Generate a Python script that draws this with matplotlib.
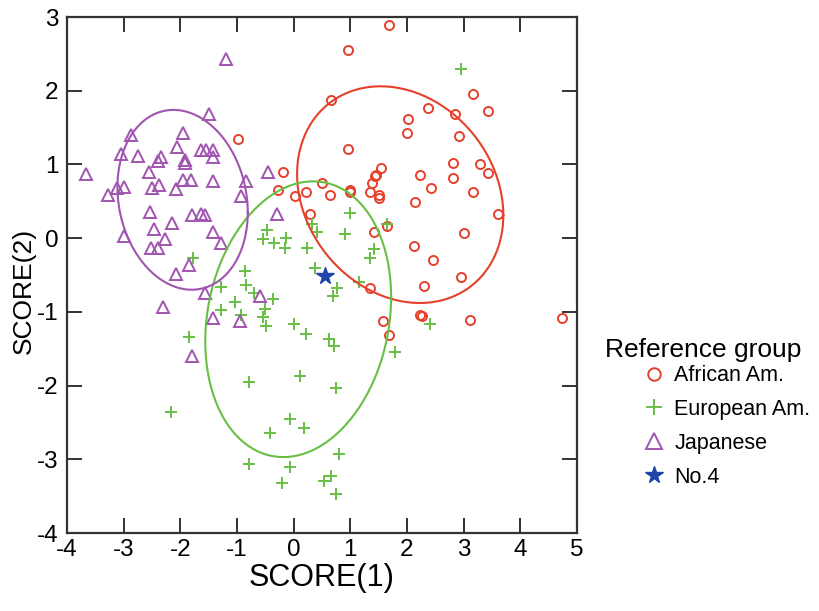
import numpy as np
import matplotlib
matplotlib.use("Agg")
import matplotlib.pyplot as plt
from matplotlib.lines import Line2D

plt.rcParams['font.family'] = ['Liberation Sans', 'DejaVu Sans']
plt.rcParams['axes.unicode_minus'] = False

# data ---------------------------------------------------------------------
african_x = [1.69, 0.96, 0.66, 2.37, 2.02, 2.00, 2.84, 3.16, 2.91, 0.96, -0.18, 1.55, 1.46,
             2.23, 2.81, 2.81, 3.43, 3.29, 3.43, -0.98, -0.28, 0.03, 0.21, 0.50, 0.64, 0.99,
             1.34, 1.38, 1.43, 0.28, 1.41, 1.34, 2.42, 3.17, 1.50, 1.51, 2.14, 3.61, 1.65,
             3.00, 2.13, 2.46, 2.95, 2.30, 1.57, 2.23, 2.26, 3.11, 4.74, 1.69, 1.00]
african_y = [2.89, 2.55, 1.88, 1.77, 1.61, 1.43, 1.69, 1.96, 1.38, 1.21, 0.90, 0.95, 0.86,
             0.86, 1.02, 0.82, 1.73, 1.01, 0.89, 1.35, 0.65, 0.57, 0.63, 0.75, 0.59, 0.65,
             0.63, 0.75, 0.84, 0.33, 0.08, -0.68, 0.68, 0.63, 0.54, 0.58, 0.49, 0.33, 0.16,
             0.07, -0.11, -0.30, -0.53, -0.65, -1.12, -1.04, -1.05, -1.11, -1.09, -1.31, 0.62]

european_x = [2.95, 0.99, 0.33, 0.42, 0.90, -0.47, -0.54, -0.34, -0.14, -0.16, 0.24, -1.77,
              -0.86, -0.84, -0.70, -0.37, -1.03, -1.28, -0.51, -0.54, -0.93, -1.29, 0.38,
              0.76, 0.69, 1.15, 0.01, 0.21, 0.62, -1.85, 1.34, 1.64, 1.41, 2.40, -0.49, 0.71,
              -0.79, 0.12, 0.75, -0.07, 0.19, -0.42, 0.80, -0.79, -0.07, -0.21, 0.54, 0.66,
              0.75, 1.78, -2.17]
european_y = [2.29, 0.34, 0.19, 0.09, 0.05, 0.11, -0.01, -0.07, 0.00, -0.14, -0.14, -0.27,
              -0.44, -0.63, -0.74, -0.82, -0.86, -0.98, -0.96, -1.07, -1.04, -0.66, -0.41,
              -0.68, -0.79, -0.59, -1.17, -1.30, -1.37, -1.34, -0.27, 0.19, -0.15, -1.16,
              -1.19, -1.46, -1.95, -1.87, -2.03, -2.46, -2.57, -2.65, -2.93, -3.06, -3.11,
              -3.32, -3.30, -3.22, -3.47, -1.55, -2.36]

japanese_x = [-1.19, -1.49, -2.87, -1.96, -2.06, -3.04, -2.74, -2.34, -2.39, -1.91, -1.92,
              -1.64, -1.54, -1.43, -1.42, -2.55, -3.67, -1.96, -1.82, -1.42, -0.84, -3.28,
              -3.11, -2.99, -2.50, -2.38, -2.08, -0.93, -2.53, -2.15, -2.46, -1.80, -1.64,
              -1.57, -1.43, -1.29, -2.99, -2.27, -2.52, -2.39, -1.84, -2.08, -1.57, -2.31,
              -1.43, -0.95, -0.46, -0.30, -0.60, -1.80]
japanese_y = [2.43, 1.68, 1.40, 1.42, 1.24, 1.14, 1.12, 1.10, 1.04, 1.06, 1.02, 1.20, 1.20,
              1.20, 1.10, 0.90, 0.87, 0.79, 0.79, 0.78, 0.78, 0.59, 0.68, 0.70, 0.68, 0.72,
              0.67, 0.57, 0.35, 0.20, 0.13, 0.31, 0.33, 0.31, 0.08, -0.06, 0.03, -0.01, -0.14,
              -0.14, -0.36, -0.49, -0.74, -0.94, -1.08, -1.12, 0.90, 0.33, -0.78, -1.60]

case_x = [0.55]
case_y = [-0.52]

# ellipses: centre x, centre y, half range x, half range y, correlation
ell_african = [1.88, 0.59, 1.82, 1.47, -0.19]
ell_european = [0.08, -1.10, 1.64, 1.87, 0.16]
ell_japanese = [-1.96, 0.52, 1.15, 1.22, -0.14]

labels = ["African Am.", "European Am.", "Japanese", "No.4"]
c_red, c_green, c_purple, c_blue = "#e5402b", "#68bf45", "#a154b0", "#1f45a8"


def ellipse_xy(p, n=200):
    cx, cy, sx, sy, r = p
    m = np.array([[sx * sx, r * sx * sy], [r * sx * sy, sy * sy]])
    low = np.linalg.cholesky(m)
    t = np.linspace(0, 2 * np.pi, n)
    pts = low @ np.vstack([np.cos(t), np.sin(t)])
    return cx + pts[0], cy + pts[1]


fig = plt.figure(figsize=(8.2, 6.11), dpi=100)
ax = fig.add_axes([67 / 820, 1 - 533 / 611, 510 / 820, 516 / 611])

ax.plot(african_x, african_y, 'o', ls='none', mfc='none', mec=c_red, mew=1.4, ms=6.5)
ax.plot(european_x, european_y, '+', ls='none', color=c_green, mew=1.4, ms=9)
ax.plot(japanese_x, japanese_y, '^', ls='none', mfc='none', mec=c_purple, mew=1.4, ms=8.5)

for p, c in [(ell_african, c_red), (ell_european, c_green), (ell_japanese, c_purple)]:
    ex, ey = ellipse_xy(p)
    ax.plot(ex, ey, color=c, lw=1.5)

ax.plot(case_x, case_y, '*', ls='none', color=c_blue, ms=13)

ax.set_xlim(-4, 5)
ax.set_ylim(-4, 3)
ax.set_xticks(range(-4, 6))
ax.set_yticks(range(-4, 4))
ax.tick_params(direction='in', length=11, width=1.3, top=True, right=True,
               labelsize=17.5, colors='#222222', labelcolor='black', pad=6)
ax.tick_params(axis='x', pad=4)
for s in ax.spines.values():
    s.set_linewidth(1.6)
    s.set_color('#333333')
ax.set_xlabel("SCORE(1)", fontsize=22, labelpad=2)
ax.set_ylabel("SCORE(2)", fontsize=19)
ax.yaxis.set_label_coords(-0.062, 0.47)

fig.text(605 / 820, 1 - 357 / 611, "Reference group", fontsize=19, va='baseline', ha='left')
handles = [
    Line2D([], [], ls='none', marker='o', mfc='none', mec=c_red, mew=1.4, ms=9),
    Line2D([], [], ls='none', marker='+', color=c_green, mew=1.4, ms=12),
    Line2D([], [], ls='none', marker='^', mfc='none', mec=c_purple, mew=1.4, ms=11),
    Line2D([], [], ls='none', marker='*', color=c_blue, ms=13),
]
fig.legend(handles, labels, loc='upper left', bbox_to_anchor=(626 / 820, 1 - 350 / 611),
           frameon=False, fontsize=15.5, handlelength=1.2, handletextpad=0.35,
           labelspacing=0.6, borderpad=0.2)

fig.savefig("out.png", dpi=100)
